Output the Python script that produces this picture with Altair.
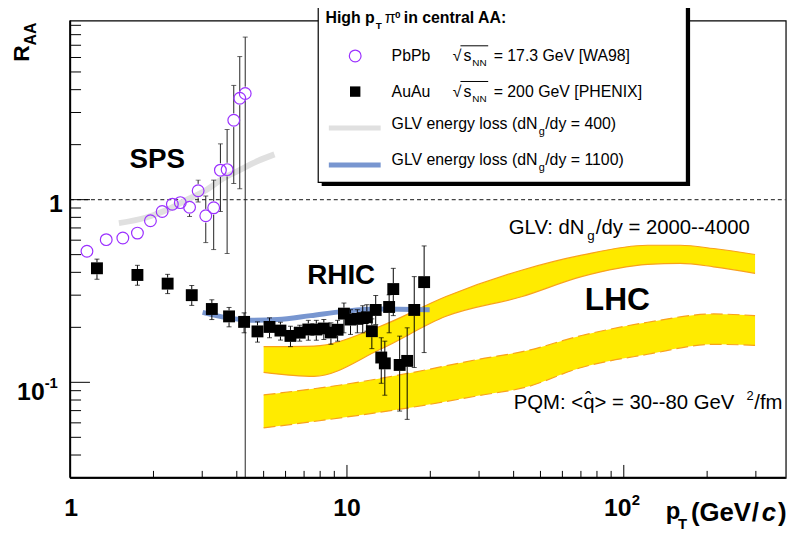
import altair as alt
import pandas as pd

FONT = "Liberation Sans"

# ---------------- data ----------------
pbpb_pt  = [1.15, 1.35, 1.55, 1.75, 1.95, 2.15, 2.34, 2.50, 2.70, 2.90, 3.09, 3.30, 3.49, 3.69, 3.90, 4.10, 4.29]
pbpb_raa = [0.522, 0.604, 0.617, 0.656, 0.766, 0.861, 0.943, 0.963, 0.908, 1.119, 0.816, 0.902, 1.45, 1.46, 2.72, 3.59, 3.81]
pbpb_hi  = [0.522, 0.604, 0.617, 0.656, 0.766, 0.861, 0.943, 0.963, 0.95, 1.279, 1.047, 1.279, 2.02, 2.42, 4.22, 6.07, 7.76]
pbpb_lo  = [0.522, 0.604, 0.617, 0.656, 0.766, 0.861, 0.943, 0.963, 0.809, 0.972, 0.582, 0.533, 0.861, 0.507, 1.226, 1.147, 0.03]

auau_pt  = [1.25, 1.75, 2.25, 2.75, 3.25, 3.75, 4.25, 4.75, 5.25, 5.75, 6.25, 6.75, 7.25, 7.75, 8.25, 8.75, 9.25,
            9.75, 10.3, 10.9, 11.4, 11.8, 12.3, 12.7, 13.3, 13.7, 14.2, 14.7, 15.5, 16.5, 17.5, 19.0]
auau_raa = [0.421, 0.387, 0.347, 0.300, 0.252, 0.2296, 0.2142, 0.190, 0.201, 0.192, 0.1795, 0.187, 0.1946, 0.1946, 0.197,
            0.1875, 0.194, 0.2377, 0.2206, 0.2225, 0.2247, 0.227, 0.1905, 0.249, 0.1367, 0.127, 0.2585, 0.324, 0.1245,
            0.131, 0.249, 0.3536]
auau_hi  = [0.4725, 0.437, 0.390, 0.339, 0.283, 0.257, 0.240, 0.2143, 0.2253, 0.2133, 0.2028, 0.2054, 0.2184, 0.2184,
            0.2206, 0.2117, 0.2184, 0.2717, 0.2497, 0.2497, 0.2626, 0.266, 0.2225, 0.2987, 0.1754, 0.168, 0.3013,
            0.4207, 0.179, 0.1988, 0.379, 0.558]
auau_lo  = [0.3666, 0.340, 0.306, 0.2637, 0.2206, 0.2013, 0.1867, 0.166, 0.1754, 0.1703, 0.1568, 0.168, 0.170, 0.170,
            0.1716, 0.1616, 0.168, 0.1867, 0.1829, 0.1867, 0.1867, 0.1905, 0.1529, 0.2072, 0.0988, 0.085, 0.1867,
            0.2318, 0.0696, 0.0627, 0.1206, 0.1455]

glv400_pt  = [1.50, 1.87, 2.21, 2.60, 3.07, 3.61, 4.04, 4.76, 5.47]
glv400_raa = [0.744, 0.796, 0.872, 0.988, 1.119, 1.32, 1.437, 1.628, 1.77]

glv1100_pt  = [3.01, 3.72, 4.51, 5.62, 7.39, 9.73, 12.8, 19.9]
glv1100_raa = [0.2416, 0.2253, 0.2187, 0.2206, 0.2318, 0.2446, 0.2521, 0.2498]

lhc_glv_pt = [5.0, 7.6, 13.2, 22.8, 43.0, 70.4, 122.0, 160.0, 211.0, 298.0]
lhc_glv_lo = [0.1133, 0.1078, 0.1516, 0.2298, 0.295, 0.379, 0.442, 0.448, 0.429, 0.395]
lhc_glv_hi = [0.1568, 0.158, 0.2028, 0.295, 0.412, 0.4967, 0.5628, 0.5628, 0.540, 0.501]

lhc_pqm_pt = [5.0, 10.0, 17.3, 30.0, 44.1, 70.4, 122.0, 211.0, 298.0]
lhc_pqm_lo = [0.0563, 0.0646, 0.0731, 0.0846, 0.0939, 0.1206, 0.1424, 0.1614, 0.1594]
lhc_pqm_hi = [0.0853, 0.0979, 0.1133, 0.1338, 0.1484, 0.1805, 0.2132, 0.2367, 0.2318]

x_minor = [2, 3, 4, 5, 6, 7, 8, 9, 20, 30, 40, 50, 60, 70, 80, 90, 200, 300]
x_major = [10, 100]
y_minor = [0.04, 0.05, 0.06, 0.07, 0.08, 0.09, 0.2, 0.3, 0.4, 0.5, 0.6, 0.7, 0.8, 0.9, 2, 3, 4, 5, 6, 7, 8, 9]
y_major = [0.1, 1]

# ---------------- layout ----------------
W, H = 722, 461.4
OX, OY = 70.7, 18.3   # plot origin in page pixels
xs = alt.Scale(type="log", domain=[1, 384.6], nice=False)
ys = alt.Scale(type="log", domain=[0.03, 9.56], nice=False)

YELLOW = "#ffeb00"
ORANGE = "#f9a11b"
BLUE = "#7896d0"
GRAY = "#e0e0e0"
PURPLE = "#9b30ff"


def X(f):
    return alt.X(f, type="quantitative", scale=xs, axis=None)


def Y(f):
    return alt.Y(f, type="quantitative", scale=ys, axis=None)


def txt(s, sx, sy, size, bold=False, italic=False, align="left", angle=0, color="black"):
    return alt.Chart(alt.Data(values=[{"a": 0}])).mark_text(
        text=s, align=align, baseline="alphabetic", fontSize=size, font=FONT,
        fontWeight="bold" if bold else "normal", fontStyle="italic" if italic else "normal",
        angle=angle, color=color,
    ).encode(x=alt.value(sx - OX), y=alt.value(sy - OY))


def segs(xv, yv, lo, hi, f):
    rows, caps = [], []
    for x, y, l, h in zip(xv, yv, lo, hi):
        if h > y * f:
            rows.append({"x": x, "a": y * f, "b": h})
            caps.append({"x": x, "c": h})
        if l < y / f:
            rows.append({"x": x, "a": l, "b": y / f})
            caps.append({"x": x, "c": l})
    return pd.DataFrame(rows), pd.DataFrame(caps)


pb = pd.DataFrame({"x": pbpb_pt, "y": pbpb_raa})
au = pd.DataFrame({"x": auau_pt, "y": auau_raa})
pb_seg, pb_cap = segs(pbpb_pt, pbpb_raa, pbpb_lo, pbpb_hi, 1.09)
au_seg, au_cap = segs(auau_pt, auau_raa, auau_lo, auau_hi, 1.078)
g400 = pd.DataFrame({"x": glv400_pt, "y": glv400_raa})
g1100 = pd.DataFrame({"x": glv1100_pt, "y": glv1100_raa})
bglv = pd.DataFrame({"x": lhc_glv_pt, "lo": lhc_glv_lo, "hi": lhc_glv_hi})
bpqm = pd.DataFrame({"x": lhc_pqm_pt, "lo": lhc_pqm_lo, "hi": lhc_pqm_hi})

layers = []

# bands
for df, dash in [(bglv, []), (bpqm, [12, 5])]:
    base = alt.Chart(df)
    layers.append(base.mark_area(color=YELLOW, interpolate="monotone").encode(x=X("x"), y=Y("lo"), y2="hi"))
    for edge in ["lo", "hi"]:
        layers.append(base.mark_line(color=ORANGE, strokeWidth=1.2, strokeDash=dash, interpolate="monotone")
                      .encode(x=X("x"), y=Y(edge)))

# dashed line at 1
layers.append(alt.Chart(pd.DataFrame({"v": [1.0]})).mark_rule(color="#444", strokeDash=[4, 3], strokeWidth=1.3)
              .encode(y=Y("v"), x=alt.value(0), x2=alt.value(W)))

# theory curves
layers.append(alt.Chart(g400).mark_line(color=GRAY, strokeWidth=6, interpolate="monotone").encode(x=X("x"), y=Y("y")))
layers.append(alt.Chart(g1100).mark_line(color=BLUE, strokeWidth=5, interpolate="monotone").encode(x=X("x"), y=Y("y")))

# error bars
layers.append(alt.Chart(pb_seg).mark_rule(color="#222", strokeWidth=1).encode(x=X("x"), y=Y("a"), y2="b"))
layers.append(alt.Chart(pb_cap).mark_tick(color="#222", orient="horizontal", size=5, thickness=1).encode(x=X("x"), y=Y("c")))
layers.append(alt.Chart(au_seg).mark_rule(color="black", strokeWidth=1).encode(x=X("x"), y=Y("a"), y2="b"))
layers.append(alt.Chart(au_cap).mark_tick(color="black", orient="horizontal", size=5, thickness=1).encode(x=X("x"), y=Y("c")))

# markers
layers.append(alt.Chart(pb).mark_point(shape="circle", filled=False, color=PURPLE, size=140, strokeWidth=1.2, opacity=1)
              .encode(x=X("x"), y=Y("y")))
layers.append(alt.Chart(au).mark_square(color="black", size=144, opacity=1).encode(x=X("x"), y=Y("y")))

# ticks (inside, ROOT style)
layers.append(alt.Chart(pd.DataFrame({"v": x_minor})).mark_rule(color="black", strokeWidth=1)
              .encode(x=X("v"), y=alt.value(H), y2=alt.value(H - 7)))
layers.append(alt.Chart(pd.DataFrame({"v": x_major})).mark_rule(color="black", strokeWidth=1)
              .encode(x=X("v"), y=alt.value(H), y2=alt.value(H - 13)))
layers.append(alt.Chart(pd.DataFrame({"v": y_minor})).mark_rule(color="black", strokeWidth=1)
              .encode(y=Y("v"), x=alt.value(0), x2=alt.value(11)))
layers.append(alt.Chart(pd.DataFrame({"v": y_major})).mark_rule(color="black", strokeWidth=1)
              .encode(y=Y("v"), x=alt.value(0), x2=alt.value(20)))
# thicker left / bottom axis lines
layers.append(alt.Chart(alt.Data(values=[{"a": 0}])).mark_rule(color="black", strokeWidth=2)
              .encode(x=alt.value(0), x2=alt.value(W), y=alt.value(H)))
layers.append(alt.Chart(alt.Data(values=[{"a": 0}])).mark_rule(color="black", strokeWidth=2)
              .encode(x=alt.value(0), y=alt.value(0), y2=alt.value(H)))

# axis labels (x)
def xlab(s, v, size, dx=0, align="center", yy=517.7):
    return alt.Chart(pd.DataFrame({"v": [v]})).mark_text(
        text=s, align=align, baseline="alphabetic", fontSize=size, fontWeight="bold", font=FONT, dx=dx
    ).encode(x=X("v"), y=alt.value(yy - OY))

layers += [xlab("1", 1, 25, dx=1), xlab("10", 10, 25), xlab("10", 100, 25, dx=-6),
           xlab("2", 100, 15, dx=8, align="left", yy=507.5)]

def ylab(s, v, size, dy, sx, align="right"):
    return alt.Chart(pd.DataFrame({"v": [v]})).mark_text(
        text=s, align=align, baseline="alphabetic", fontSize=size, fontWeight="bold", font=FONT, dy=dy
    ).encode(y=Y("v"), x=alt.value(sx - OX))

layers += [ylab("1", 1, 25, 12, 63.3), ylab("10", 0.1, 25, 17.4, 45), ylab("-1", 0.1, 15, 5.7, 45, align="left")]

# axis titles
layers += [
    txt("R", 29.3, 60, 23, bold=True, angle=270),
    txt("AA", 36.5, 43.5, 16, bold=True, angle=270),
    txt("p", 671.7, 521.7, 24, bold=True),
    txt("T", 684, 531, 15, bold=True),
    txt("(GeV", 697, 523.3, 26, bold=True),
    txt("/", 758.5, 523.3, 26, bold=True),
    txt("c", 768.5, 523.3, 26, bold=True, italic=True),
    txt(")", 785, 523.3, 26, bold=True),
]

# annotations
layers += [
    txt("SPS", 158.7, 166.7, 28, bold=True, align="center"),
    txt("RHIC", 310, 284, 28, bold=True),
    txt("LHC", 590, 310, 32, bold=True),
    txt("GLV: dN", 513.3, 234, 20.5),
    txt("g", 592.5, 240, 13.5),
    txt("/dy = 2000--4000", 601, 234, 20.5),
    txt("PQM: <q> = 30--80 GeV", 518.3, 410.7, 20.5),
    txt("\u02c6", 593.5, 407, 20, align="center"),
    txt("2", 753, 401, 13),
    txt("/fm", 761, 410.7, 20.5),
]

# legend box with shadow
layers.append(alt.Chart(alt.Data(values=[{"a": 0}])).mark_rect(color="black")
              .encode(x=alt.value(324.5 - OX), x2=alt.value(696.2 - OX), y=alt.value(-30), y2=alt.value(185.2 - OY)))
layers.append(alt.Chart(alt.Data(values=[{"a": 0}])).mark_rect(fill="white", stroke="black", strokeWidth=1.2)
              .encode(x=alt.value(321 - OX), x2=alt.value(692.5 - OX), y=alt.value(-30), y2=alt.value(181.5 - OY)))

# legend content
layers += [
    txt("High p", 328.3, 20.5, 16, bold=True),
    txt("T", 379, 27, 10, bold=True),
    txt("\u03c0", 388, 20.5, 16),
    txt("0", 398.5, 15.5, 10, bold=True),
    txt("in central AA:", 407.3, 20.5, 16, bold=True),
    txt("PbPb", 395, 59, 16),
    txt("\u221a", 456.7, 59, 16),
    txt("s", 467.7, 59, 16),
    txt("NN", 476.5, 64, 10),
    txt("= 17.3 GeV [WA98]", 498, 59, 16),
    txt("AuAu", 395, 95, 16),
    txt("\u221a", 456.7, 95, 16),
    txt("s", 467.7, 95, 16),
    txt("NN", 476.5, 100, 10),
    txt("= 200 GeV [PHENIX]", 498, 95, 16),
    txt("GLV energy loss (dN", 395, 127.7, 16),
    txt("g", 543.5, 133.3, 11),
    txt("/dy = 400)", 550, 127.7, 16),
    txt("GLV energy loss (dN", 395, 164.3, 16),
    txt("g", 543.5, 170, 11),
    txt("/dy = 1100)", 550, 164.3, 16),
]
for yy in [43.8, 79.8]:
    layers.append(alt.Chart(alt.Data(values=[{"a": 0}])).mark_rule(color="black", strokeWidth=1)
                  .encode(x=alt.value(464.5 - OX), x2=alt.value(492.5 - OX), y=alt.value(yy - OY)))
layers.append(alt.Chart(alt.Data(values=[{"a": 0}])).mark_point(shape="circle", filled=False, color=PURPLE, size=140,
                                                                  strokeWidth=1.2, opacity=1)
              .encode(x=alt.value(358.3 - OX), y=alt.value(54 - OY)))
layers.append(alt.Chart(alt.Data(values=[{"a": 0}])).mark_square(color="black", size=110, opacity=1)
              .encode(x=alt.value(358.3 - OX), y=alt.value(90 - OY)))
layers.append(alt.Chart(alt.Data(values=[{"a": 0}])).mark_rule(color=GRAY, strokeWidth=5)
              .encode(x=alt.value(331.7 - OX), x2=alt.value(384 - OX), y=alt.value(126.7 - OY)))
layers.append(alt.Chart(alt.Data(values=[{"a": 0}])).mark_rule(color=BLUE, strokeWidth=5)
              .encode(x=alt.value(331.7 - OX), x2=alt.value(384 - OX), y=alt.value(164 - OY)))

chart = alt.layer(*layers).properties(
    width=W, height=H,
    padding={"left": OX - 8, "top": OY - 8, "right": 4.3, "bottom": 53.3},
    autosize=alt.AutoSizeParams(type="none"),
).configure_view(stroke="black", strokeWidth=1.2)

chart.save("out.html", embed_options={"renderer": "svg", "actions": False})
